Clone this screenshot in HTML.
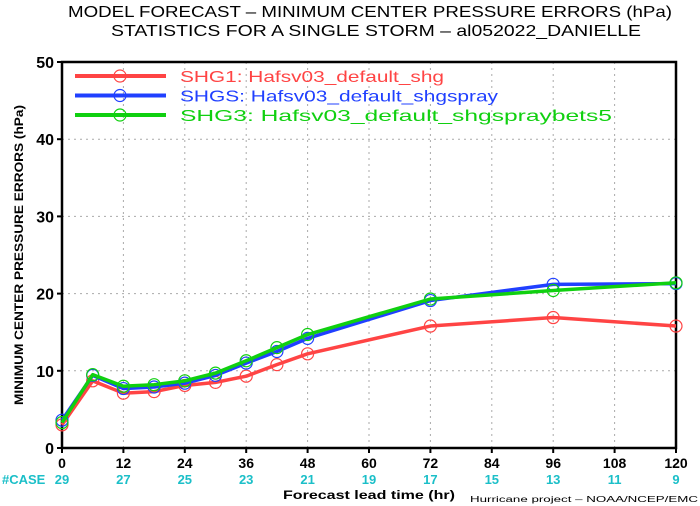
<!DOCTYPE html>
<html><head><meta charset="utf-8"><style>
body{margin:0;background:#fff;}
svg{display:block;font-family:"Liberation Sans",sans-serif;}
</style></head><body>
<svg id="chart" width="700" height="506">
<text x="370" y="17" text-anchor="middle" font-size="16" textLength="604" lengthAdjust="spacingAndGlyphs">MODEL FORECAST – MINIMUM CENTER PRESSURE ERRORS (hPa)</text>
<text x="376" y="36" text-anchor="middle" font-size="16" textLength="530" lengthAdjust="spacingAndGlyphs">STATISTICS FOR A SINGLE STORM – al052022_DANIELLE</text>
<text transform="translate(23,255) rotate(-90)" text-anchor="middle" font-size="12" font-weight="bold" textLength="300" lengthAdjust="spacingAndGlyphs">MINIMUM CENTER PRESSURE ERRORS (hPa)</text>
<text x="369" y="499" text-anchor="middle" font-size="12" font-weight="bold" textLength="172" lengthAdjust="spacingAndGlyphs">Forecast lead time (hr)</text>
<text x="2" y="484" font-size="13" font-weight="bold" fill="#1bbfc8">#CASE</text>
<text x="698" y="502" text-anchor="end" font-size="8" textLength="228" lengthAdjust="spacingAndGlyphs">Hurricane project – NOAA/NCEP/EMC</text>
<g id="grid"></g><g id="axes"></g><g id="series"></g><g id="legend"></g>
</svg>
<script>
const xTicks=[0,12,24,36,48,60,72,84,96,108,120];
const yTicks=[0,10,20,30,40,50];
const caseCounts=[29,27,25,23,21,19,17,15,13,11,9];
const leadTimes=[0,6,12,18,24,30,36,42,48,72,96,120];
const shg1=[3.0,8.7,7.1,7.3,8.1,8.5,9.3,10.8,12.2,15.8,16.9,15.8];
const shgs=[3.6,9.4,7.7,7.9,8.4,9.4,11.0,12.5,14.2,19.1,21.2,21.3];
const shg3=[3.3,9.5,8.0,8.2,8.7,9.7,11.3,13.0,14.7,19.3,20.4,21.4];
const seriesNames=["SHG1: Hafsv03_default_shg","SHGS: Hafsv03_default_shgspray","SHG3: Hafsv03_default_shgspraybets5"];
const legendWidths=[264,318,432];
const NS="http://www.w3.org/2000/svg";
const X0=62,X1=676,Y0=448,Y1=62;
const xs=v=>X0+(v-0)/(120-0)*(X1-X0);
const ys=v=>Y0-(v-0)/(50-0)*(Y0-Y1);
function mk(t,a,p){const e=document.createElementNS(NS,t);for(const k in a)e.setAttribute(k,a[k]);p.appendChild(e);return e;}
const grid=document.getElementById('grid'),axes=document.getElementById('axes');
xTicks.forEach((t,i)=>{
 if(t>0&&t<120){const g=mk('line',{x1:xs(t),x2:xs(t),y1:Y1,y2:Y0,stroke:'#aaa','stroke-dasharray':'2,4','stroke-width':1},grid);
 }
 const tk=mk('line',{x1:xs(t),x2:xs(t),y1:Y0,y2:Y0+5,stroke:'#000','stroke-width':2},axes);
 
 const lb=mk('text',{x:xs(t),y:Y0+20,'text-anchor':'middle','font-size':14,'font-weight':'bold'},axes);lb.textContent=t;
 
 const c=mk('text',{x:xs(t),y:484,'text-anchor':'middle','font-size':13,'font-weight':'bold',fill:'#1bbfc8'},axes);c.textContent=caseCounts[i];
 
});
yTicks.forEach(t=>{
 if(t>0&&t<50){const g=mk('line',{x1:X0,x2:X1,y1:ys(t),y2:ys(t),stroke:'#aaa','stroke-dasharray':'2,4','stroke-width':1},grid);
 }
 const tk=mk('line',{x1:X0-5,x2:X0,y1:ys(t),y2:ys(t),stroke:'#000','stroke-width':2},axes);
 
 const lb=mk('text',{x:X0-8,y:ys(t)+6,'text-anchor':'end','font-size':16,'font-weight':'bold'},axes);lb.textContent=t;
 
});
const frame=mk('rect',{x:X0,y:Y1,width:X1-X0,height:Y0-Y1,fill:'none',stroke:'#000','stroke-width':2.5},axes);

const colors=['#ff4444','#2040ff','#10d010'];
const sg=document.getElementById('series'),lg=document.getElementById('legend');
[shg1,shgs,shg3].forEach((data,si)=>{
 const g=mk('g',{},sg);
 const pl=mk('polyline',{points:data.map((v,i)=>xs(leadTimes[i])+','+ys(v)).join(' '),fill:'none',stroke:colors[si],'stroke-width':3.5,'stroke-linejoin':'round'},g);
 
 data.forEach((v,i)=>{const c=mk('circle',{cx:xs(leadTimes[i]),cy:ys(v),r:6,fill:'none',stroke:colors[si],'stroke-width':1.2},g);
  });
 const ly=76+si*19.5;
 const le=mk('g',{},lg);
 mk('line',{x1:75,x2:166,y1:ly,y2:ly,stroke:colors[si],'stroke-width':4},le);
 mk('circle',{cx:120,cy:ly,r:6,fill:'none',stroke:colors[si],'stroke-width':1.2},le);
 const t=mk('text',{x:180,y:ly+6,'font-size':16,fill:colors[si],textLength:legendWidths[si],lengthAdjust:'spacingAndGlyphs'},le);t.textContent=seriesNames[si];
});
</script>
</body></html>
